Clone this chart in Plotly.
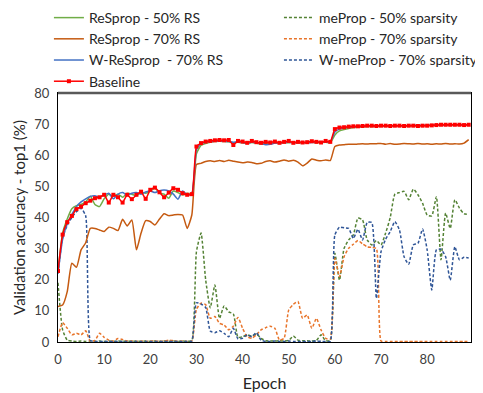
import plotly.graph_objects as go

epochs = list(range(90))

baseline = [22.8, 34.5, 38.5, 40.5, 42.7, 43.5, 44.6, 45.4, 46.2, 46.5,
            47.3, 44.8, 47.3, 46.5, 44.8, 47.3, 45.9, 47.3, 48.3, 46.0,
            48.9, 49.6, 48.1, 46.5, 48.0, 49.4, 48.9, 47.8, 47.3, 47.5,
            62.8, 63.9, 64.4, 64.6, 64.8, 64.9, 64.8, 64.9, 63.3, 64.6,
            64.4, 64.0, 64.6, 64.2, 64.0, 64.3, 64.1, 64.4, 64.0, 64.3,
            64.6, 64.0, 64.3, 64.1, 64.2, 64.5, 64.3, 64.1, 64.6, 64.3,
            68.4, 68.9, 69.0, 69.2, 69.3, 69.3, 69.4, 69.5, 69.5, 69.4,
            69.5, 69.5, 69.4, 69.5, 69.5, 69.4, 69.5, 69.5, 69.4, 69.5,
            69.5, 69.6, 69.7, 69.8, 69.8, 69.8, 69.8, 69.8, 69.7, 69.8]

resprop_50 = [22.5, 35.0, 39.5, 42.8, 43.8, 44.2, 45.0, 46.8, 44.2, 43.5,
              46.0, 47.5, 46.8, 47.5, 46.5, 47.8, 47.5, 47.0, 48.2, 47.8,
              48.5, 49.5, 47.8, 47.5, 46.2, 48.5, 48.0, 47.2, 47.8, 47.5,
              60.5, 63.2, 63.8, 64.2, 64.4, 64.5, 64.4, 64.3, 64.0, 64.2,
              64.0, 63.8, 64.1, 63.9, 63.6, 63.8, 63.9, 64.0, 63.8, 64.1,
              64.0, 64.2, 63.9, 64.0, 64.1, 64.2, 64.0, 64.1, 64.2, 64.0,
              66.5, 67.8, 68.3, 68.6, 68.9, 69.0, 69.1, 69.2, 69.2, 69.3,
              69.3, 69.4, 69.4, 69.4, 69.5, 69.5, 69.4, 69.5, 69.5, 69.5,
              69.6, 69.6, 69.6, 69.7, 69.7, 69.7, 69.7, 69.8, 69.8, 69.8]

resprop_70 = [11.4, 11.9, 16.2, 25.3, 24.0, 29.6, 31.9, 36.5, 36.5, 36.0,
              35.5, 36.9, 36.5, 35.8, 39.4, 37.3, 39.2, 29.6, 35.0, 39.0,
              38.7, 37.6, 39.5, 41.2, 40.6, 40.8, 41.0, 40.8, 36.5, 40.8,
              57.0, 57.4, 58.0, 58.2, 58.0, 58.3, 58.0, 58.4, 58.1, 57.8,
              57.6, 57.8, 57.7, 57.3, 57.4, 58.0, 58.2, 57.8, 58.1, 58.5,
              58.1, 58.4, 57.8, 56.6, 57.5, 58.8, 58.4, 58.2, 58.5, 58.3,
              62.8, 63.3, 63.4, 63.5, 63.5, 63.6, 63.7, 63.6, 63.7, 63.7,
              63.8, 63.5, 63.8, 63.5, 63.6, 63.8, 63.7, 63.6, 63.8, 63.6,
              63.7, 63.5, 63.7, 63.6, 63.8, 63.6, 63.7, 63.6, 63.9, 65.0]

w_resprop_70 = [22.0, 33.0, 38.0, 41.0, 43.5, 45.0, 46.0, 46.8, 47.0, 46.5,
                47.2, 47.8, 46.0, 47.5, 48.0, 47.2, 47.8, 48.0, 47.5, 48.2,
                48.5, 48.0, 48.6, 48.8, 48.5, 47.5, 45.9, 48.5, 47.3, 47.5,
                61.8, 63.8, 64.2, 64.4, 64.5, 64.6, 64.5, 64.4, 64.2, 64.3,
                64.1, 63.9, 64.2, 64.0, 63.8, 63.4, 63.5, 63.9, 64.0, 64.1,
                64.2, 64.0, 64.1, 64.2, 64.0, 64.1, 64.3, 64.2, 64.3, 64.2,
                67.5, 68.4, 68.8, 69.0, 69.1, 69.2, 69.3, 69.3, 69.4, 69.4,
                69.4, 69.5, 69.5, 69.5, 69.5, 69.5, 69.5, 69.6, 69.6, 69.6,
                69.6, 69.7, 69.7, 69.7, 69.7, 69.8, 69.8, 69.8, 69.8, 69.8]

meprop_50 = [19.0, 3.9, 0.6, 0.3, 0.2, 0.3, 0.2, 0.3, 0.2, 0.3,
             0.2, 0.3, 0.2, 0.3, 0.2, 0.3, 0.2, 0.3, 0.2, 0.3,
             0.2, 0.3, 0.2, 0.3, 0.2, 0.3, 0.2, 0.3, 0.2, 0.4,
             29.0, 35.0, 20.0, 11.0, 18.3, 7.6, 11.6, 9.7, 9.0, 1.5,
             1.7, 2.3, 1.9, 2.6, 1.2, 0.4, 0.3, 0.3, 0.4, 0.3,
             0.5, 1.9, 0.6, 0.4, 0.4, 0.3, 0.5, 2.3, 0.4, 0.5,
             28.5, 19.9, 30.1, 32.8, 34.4, 39.8, 39.2, 32.8, 31.2, 32.6,
             31.2, 35.0, 40.0, 47.5, 48.0, 48.4, 45.7, 49.1, 47.3, 44.6,
             40.8, 40.5, 46.7, 26.4, 41.4, 36.5, 45.7, 43.0, 41.2, 41.0]

meprop_70 = [1.7, 6.2, 4.4, 2.3, 2.8, 2.3, 3.6, 0.2, 0.5, 2.8,
             1.5, 0.6, 0.3, 1.1, 0.8, 0.3, 0.3, 0.2, 0.3, 0.2,
             0.3, 0.3, 0.2, 0.3, 0.6, 0.4, 0.2, 0.3, 0.2, 0.3,
             10.5, 12.5, 12.0, 7.6, 8.2, 6.0, 5.5, 3.9, 5.1, 7.9,
             4.4, 1.7, 1.2, 2.3, 3.9, 4.6, 5.1, 4.4, 0.6, 1.2,
             10.3, 12.1, 13.0, 7.6, 8.7, 4.4, 7.6, 3.9, 1.2, 0.9,
             26.9, 21.0, 27.4, 30.1, 31.4, 32.6, 31.5, 30.6, 30.4, 30.0,
             0.3, 0.2, 0.2, 0.2, 0.2, 0.2, 0.2, 0.2, 0.2, 0.2,
             0.2, 0.2, 0.2, 0.2, 0.2, 0.2, 0.2, 0.2, 0.2, 0.2]

w_meprop_70 = [22.0, 33.5, 37.5, 40.0, 41.9, 43.0, 40.5, 0.5, 0.2, 0.2,
               0.2, 0.2, 0.2, 0.2, 0.2, 0.2, 0.2, 0.2, 0.2, 0.2,
               0.2, 0.2, 0.2, 0.2, 0.2, 0.2, 0.2, 0.2, 0.2, 0.3,
               12.6, 12.2, 11.1, 3.5, 3.0, 3.6, 2.8, 1.7, 4.4, 1.0,
               1.2, 2.3, 1.7, 3.0, 0.6, 0.2, 0.2, 0.3, 0.2, 0.2,
               0.3, 0.2, 0.2, 0.2, 0.2, 0.2, 0.3, 0.2, 0.2, 0.2,
               34.4, 36.9, 36.7, 36.5, 33.3, 36.2, 32.8, 38.4, 38.4, 14.0,
               29.0, 33.0, 35.5, 38.7, 36.0, 27.4, 25.0, 31.2, 31.7, 36.3,
               29.6, 16.7, 29.6, 29.8, 27.4, 19.9, 30.6, 26.4, 27.2, 27.0]

x_ticks = [0, 10, 20, 30, 40, 50, 60, 70, 80]
y_ticks = [0, 10, 20, 30, 40, 50, 60, 70, 80]

FONT = "Lato"
fig = go.Figure()

def add(name, y, color, dash=None, legend="legend", markers=False, width=1.5, group=None):
    fig.add_trace(go.Scatter(
        x=epochs, y=y, name=name, legend=legend, legendgroup=group or name,
        mode="lines+markers" if markers else "lines",
        line=dict(color=color, width=width, dash=dash, shape="spline", smoothing=0.5),
        marker=dict(symbol="square", size=4, color=color) if markers else None,
    ))

DOT = "3px,2px"
add("meProp - 50% sparsity", meprop_50, "#548235", DOT, "legend2")
add("meProp - 70% sparsity", meprop_70, "#E8742A", DOT, "legend2")
add("W-meProp - 70% sparsity", w_meprop_70, "#2F5597", DOT, "legend2")
add("ReSprop - 50% RS", resprop_50, "#70AD47")
add("ReSprop - 70% RS", resprop_70, "#C55A11")
add("W-ReSprop  - 70% RS", w_resprop_70, "#4472C4")
add("Baseline", baseline, "#FF0000", markers=True, width=1.5)

fig.add_shape(type="line", xref="paper", yref="paper", x0=0, x1=1, y0=1, y1=1,
              line=dict(color="#595959", width=2.5))

# page body has an 8px default margin, so the figure is 8px smaller and offset
fig.update_layout(
    width=475, height=385,
    margin=dict(l=50, r=12, t=85, b=51, autoexpand=False),
    paper_bgcolor="white", plot_bgcolor="white",
    font=dict(family=FONT, size=13, color="#262626"),
    showlegend=True,
    legend=dict(x=-0.022, y=1.3654, xanchor="left", yanchor="top", traceorder="normal",
                tracegroupgap=3, itemwidth=30, font=dict(size=14, family=FONT),
                bgcolor="rgba(0,0,0,0)"),
    legend2=dict(x=0.535, y=1.3654, xanchor="left", yanchor="top", traceorder="normal",
                 tracegroupgap=3, itemwidth=30, font=dict(size=14, family=FONT),
                 bgcolor="rgba(0,0,0,0)"),
    xaxis=dict(range=[0, 89.5], tickvals=x_ticks, showgrid=False, zeroline=False,
               showline=True, linecolor="black", linewidth=1, mirror=True,
               ticks="", ticklabelstandoff=5, tickfont=dict(size=13, color="#404040"),
               title=dict(text="Epoch", font=dict(size=16, color="#262626"), standoff=12)),
    yaxis=dict(range=[0, 80], tickvals=y_ticks, showgrid=False, zeroline=False,
               showline=True, linecolor="black", linewidth=1, mirror=True,
               ticks="", ticklabelstandoff=5, tickfont=dict(size=13, color="#404040"),
               title=dict(text="Validation accuracy - top1 (%)", font=dict(size=15, color="#262626"), standoff=5)),
)

fig.write_html("out.html")
